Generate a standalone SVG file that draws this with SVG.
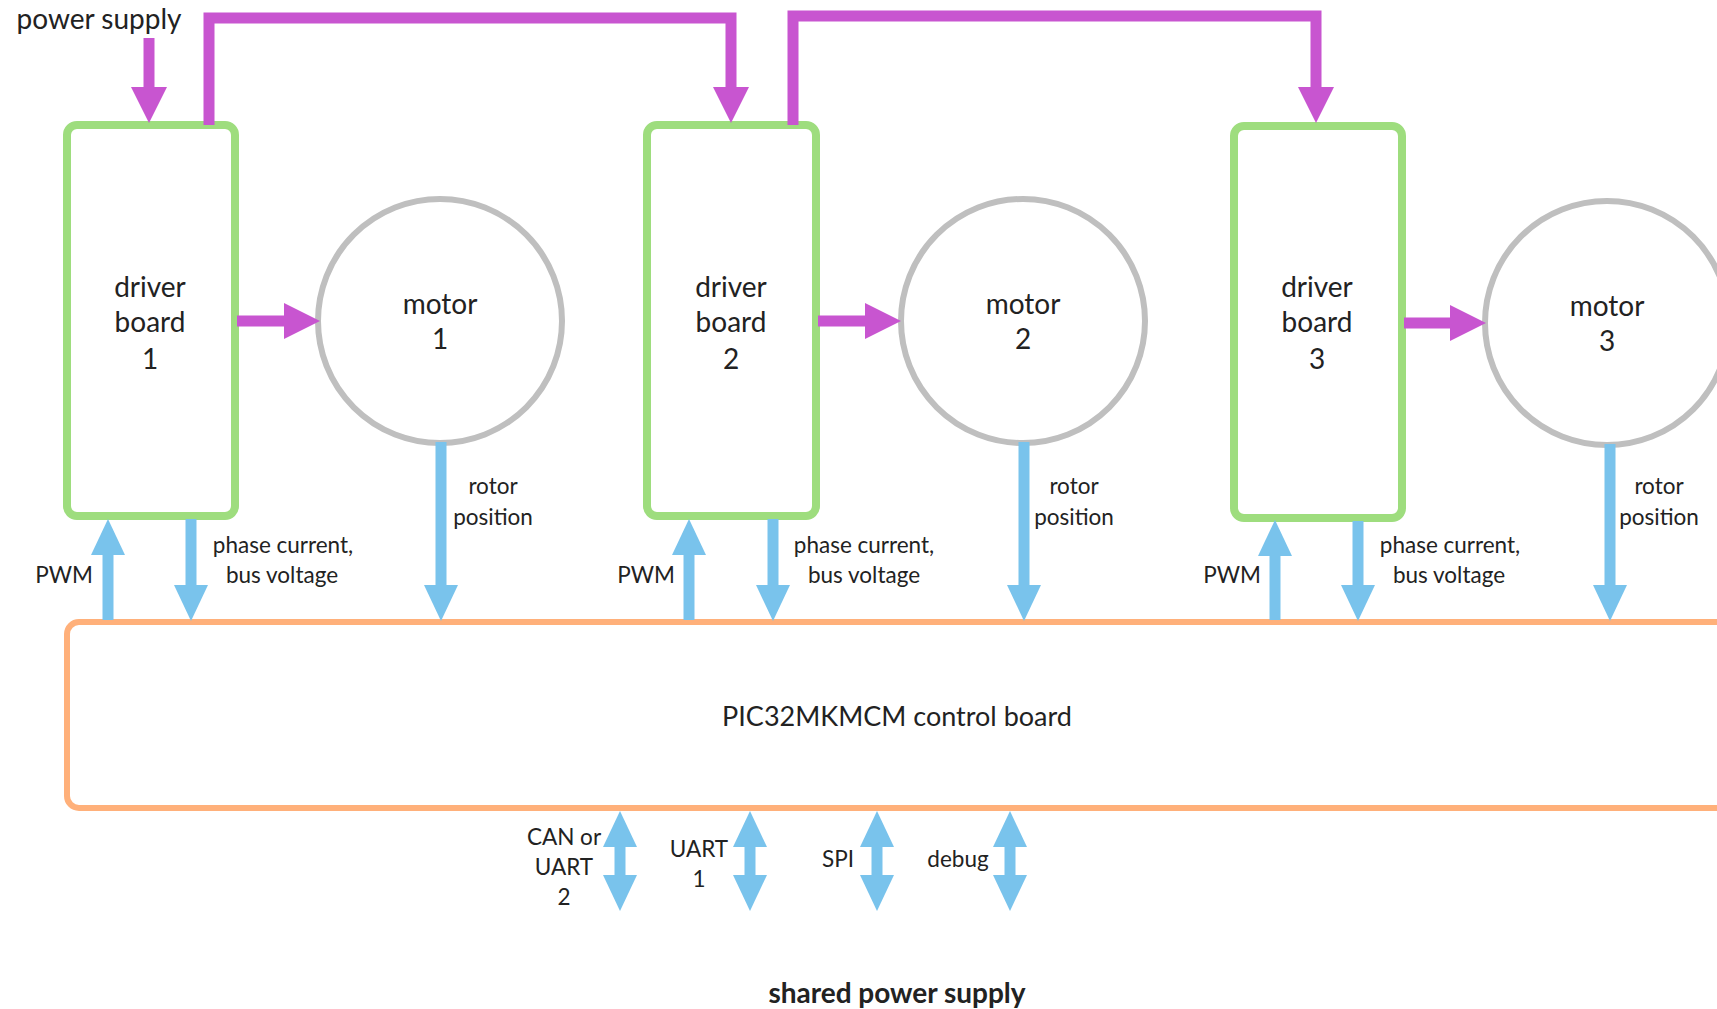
<svg xmlns="http://www.w3.org/2000/svg" width="1717" height="1009" viewBox="0 0 1717 1009">
<style>
text{font-family:Lato,"Open Sans","Liberation Sans",sans-serif;fill:#222;text-anchor:middle;dominant-baseline:central}
.big{font-size:28px}
.sm{font-size:22.5px}
.board{fill:#fff;stroke:#9edd7e;stroke-width:8}
.motor{fill:#fff;stroke:#bfbfbf;stroke-width:6}
.ctrl{fill:#fff;stroke:#ffb07a;stroke-width:6}
.pw{fill:none;stroke:#c855d0;stroke-width:11;marker-end:url(#hp)}
.sig{fill:none;stroke:#79c3ec;stroke-width:11;marker-end:url(#hb)}
.bi{fill:none;stroke:#79c3ec;stroke-width:11;marker-end:url(#hb);marker-start:url(#hb)}
</style>
<defs>
<marker id="hp" markerUnits="userSpaceOnUse" viewBox="0 0 36 36" markerWidth="36" markerHeight="36" refX="1" refY="18" orient="auto-start-reverse"><path d="M0,0 L36,18 L0,36 z" fill="#c855d0"/></marker>
<marker id="hb" markerUnits="userSpaceOnUse" viewBox="0 0 36 36" markerWidth="36" markerHeight="36" refX="1" refY="18" orient="auto-start-reverse"><path d="M0,1 L36,18 L0,35 z" fill="#79c3ec"/></marker>
</defs>
<rect width="1717" height="1009" fill="#fff"/>
<text x="99" y="18" style="font-size:28px">power supply</text>

<g id="control">
<rect class="ctrl" x="67" y="622" width="1700" height="186" rx="12"/>
<text x="897" y="715" style="font-size:27px">PIC32MKMCM control board</text>
</g>

<g id="driver1"><rect class="board" x="67" y="125" width="168" height="391" rx="10"/>
<text x="150" y="286" class="big">driver</text><text x="150" y="321" class="big">board</text><text x="150" y="358" class="big">1</text></g>
<g id="driver2"><rect class="board" x="647" y="125" width="169" height="391" rx="10"/>
<text x="731" y="286" class="big">driver</text><text x="731" y="321" class="big">board</text><text x="731" y="358" class="big">2</text></g>
<g id="driver3"><rect class="board" x="1234" y="126" width="168" height="392" rx="10"/>
<text x="1317" y="286" class="big">driver</text><text x="1317" y="321" class="big">board</text><text x="1317" y="358" class="big">3</text></g>

<g id="motor1"><circle class="motor" cx="440" cy="321" r="122"/>
<text x="440" y="303" class="big">motor</text><text x="440" y="338" class="big">1</text></g>
<g id="motor2"><circle class="motor" cx="1023" cy="321" r="122"/>
<text x="1023" y="303" class="big">motor</text><text x="1023" y="338" class="big">2</text></g>
<g id="motor3"><circle class="motor" cx="1607" cy="323" r="122"/>
<text x="1607" y="305" class="big">motor</text><text x="1607" y="340" class="big">3</text></g>

<g id="connectors">
<path class="pw" d="M149,38 V88"/>
<path class="pw" d="M209,125 V18 H731 V88"/>
<path class="pw" d="M793,125 V16 H1316 V88"/>
<path class="pw" d="M237,321 H285"/>
<path class="pw" d="M818,321 H866"/>
<path class="pw" d="M1404,323 H1451"/>

<path class="sig" d="M108,620 V554"/>
<path class="sig" d="M191,519 V586"/>
<path class="sig" d="M441,442 V586"/>
<path class="sig" d="M689,620 V554"/>
<path class="sig" d="M773,519 V586"/>
<path class="sig" d="M1024,442 V586"/>
<path class="sig" d="M1275,620 V555"/>
<path class="sig" d="M1358,521 V586"/>
<path class="sig" d="M1610,444 V586"/>

<path class="bi" d="M620,846 V876"/>
<path class="bi" d="M750,846 V876"/>
<path class="bi" d="M877,846 V876"/>
<path class="bi" d="M1010,846 V876"/>
</g>

<g id="labels">
<text x="64" y="574" class="sm">PWM</text>
<text x="283" y="544" class="sm">phase current,</text><text x="282" y="574" class="sm">bus voltage</text>
<text x="493" y="485" class="sm">rotor</text><text x="493" y="516" class="sm">position</text>
<text x="646" y="574" class="sm">PWM</text>
<text x="864" y="544" class="sm">phase current,</text><text x="864" y="574" class="sm">bus voltage</text>
<text x="1074" y="485" class="sm">rotor</text><text x="1074" y="516" class="sm">position</text>
<text x="1232" y="574" class="sm">PWM</text>
<text x="1450" y="544" class="sm">phase current,</text><text x="1449" y="574" class="sm">bus voltage</text>
<text x="1659" y="485" class="sm">rotor</text><text x="1659" y="516" class="sm">position</text>

<text x="564" y="836" class="sm">CAN or</text><text x="564" y="866" class="sm">UART</text><text x="564" y="896" class="sm">2</text>
<text x="699" y="848" class="sm">UART</text><text x="699" y="878" class="sm">1</text>
<text x="838" y="858" class="sm">SPI</text>
<text x="958" y="858" class="sm">debug</text>
<text x="897" y="992" style="font-weight:bold;font-size:28px">shared power supply</text>
</g>
</svg>
